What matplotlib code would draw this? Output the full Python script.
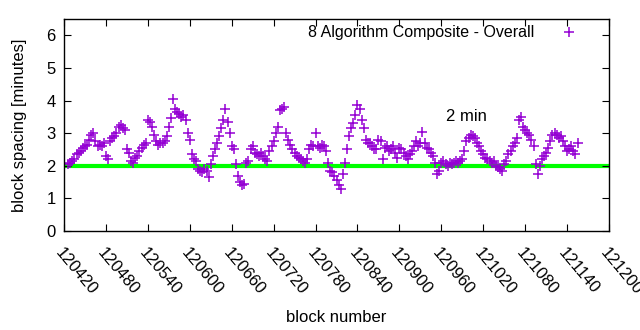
import numpy as np
import matplotlib
matplotlib.use('Agg')
import matplotlib.pyplot as plt

plt.rcParams['font.family'] = ['Liberation Sans', 'DejaVu Sans']

# block spacing (minutes), one value every 3 blocks starting at block 120426
spacing = [
    2.05, 2.1, 2.15, 2.2, 2.35, 2.4, 2.45, 2.55, 2.6, 2.65,
    2.8, 2.95, 3.0, 2.75, 2.6, 2.65, 2.6, 2.7, 2.3, 2.2,
    2.75, 2.85, 2.9, 3.0, 3.2, 3.25, 3.15, 3.1, 2.5, 2.4,
    2.15, 2.1, 2.25, 2.3, 2.45, 2.55, 2.65, 2.7, 3.4, 3.35,
    3.2, 2.95, 2.75, 2.65, 2.7, 2.7, 2.75, 2.9, 3.2, 3.45,
    4.05, 3.75, 3.65, 3.6, 3.5, 3.55, 3.4, 3.0, 2.8, 2.35,
    2.2, 2.15, 1.9, 1.85, 1.8, 1.9, 1.85, 1.65, 2.05, 2.3,
    2.5, 2.7, 2.9, 3.15, 3.4, 3.75, 3.35, 3.0, 2.6, 2.5,
    2.05, 1.7, 1.5, 1.4, 1.45, 2.1, 2.15, 2.5, 2.6, 2.4,
    2.35, 2.3, 2.4, 2.3, 2.2, 2.15, 2.45, 2.6, 2.75, 3.0,
    3.2, 3.7, 3.75, 3.8, 3.0, 2.8, 2.65, 2.5, 2.4, 2.3,
    2.25, 2.2, 2.15, 2.1, 2.2, 2.5, 2.65, 2.6, 3.0, 2.6,
    2.55, 2.65, 2.6, 2.45, 2.1, 1.85, 1.8, 1.7, 1.55, 1.4,
    1.3, 1.75, 2.1, 2.5, 2.9, 3.15, 3.3, 3.55, 3.85, 3.75,
    3.4, 3.15, 2.8, 2.7, 2.7, 2.6, 2.5, 2.5, 2.8, 2.75,
    2.2, 2.55, 2.6, 2.45, 2.5, 2.6, 2.4, 2.25, 2.55, 2.5,
    2.4, 2.3, 2.2, 2.35, 2.45, 2.6, 2.75, 2.6, 2.7, 3.05,
    2.7, 2.55, 2.5, 2.4, 2.3, 2.1, 1.75, 1.85, 2.1, 2.15,
    2.05, 2.0, 2.1, 2.05, 2.1, 2.15, 2.1, 2.15, 2.2, 2.45,
    2.75, 2.85, 2.95, 2.9, 2.85, 2.7, 2.6, 2.45, 2.35, 2.25,
    2.2, 2.15, 2.1, 2.15, 2.0, 1.95, 1.9, 1.85, 2.05, 2.15,
    2.35, 2.45, 2.6, 2.7, 2.85, 3.4, 3.5, 3.2, 3.1, 3.0,
    2.95, 2.8, 2.6, 2.05, 1.75, 2.0, 2.2, 2.3, 2.4, 2.55,
    2.75, 2.95, 3.0, 2.95, 2.85, 2.9, 2.75, 2.6, 2.45, 2.5,
    2.6, 2.45, 2.35, 2.7,
]
first_block = 120426
blocks = first_block + 3 * np.arange(len(spacing))

target = 2.0
target_span = [120424, 121198]
xticks = list(range(120420, 121201, 60))
yticks = [0, 1, 2, 3, 4, 5, 6]

fig = plt.figure(figsize=(6.4, 3.3), dpi=100)
ax = fig.add_axes([0.1, 0.3, 0.8516, 0.6424])

ax.plot(target_span, [target, target], color='#00ff00', lw=3, zorder=1)
ax.plot(blocks, spacing, ls='none', marker='+', ms=7, mew=1.1,
        color='#9400d3', label='8 Algorithm Composite - Overall', zorder=2)

ax.text(120967, 3.5, '2 min', fontsize=12, va='center', ha='left')

ax.set_xlim(120420, 121200)
ax.set_ylim(0, 6.5)
ax.set_xticks(xticks)
ax.set_yticks(yticks)
ax.set_xticklabels([str(t) for t in xticks], rotation=-50, ha='left',
                   va='top', rotation_mode='anchor')
ax.tick_params(direction='in', top=True, right=True, length=5,
               labelsize=12, pad=6)
ax.tick_params(axis='x', pad=10)
for s in ax.spines.values():
    s.set_linewidth(1)

ax.set_xlabel('block number', fontsize=12, labelpad=9)
ax.set_ylabel('block spacing [minutes]', fontsize=12, labelpad=14)

leg = ax.legend(loc='upper right', frameon=False, fontsize=11.5,
                markerfirst=False, handlelength=4.2, handletextpad=0.1,
                borderpad=0.2, borderaxespad=0.2)

fig.savefig('out.png', dpi=100)
